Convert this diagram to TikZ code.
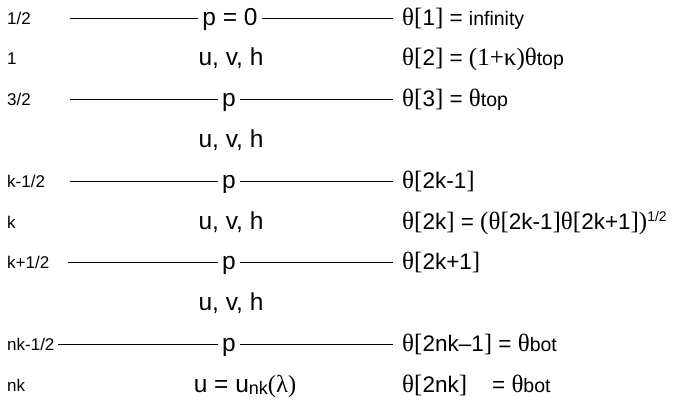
\documentclass[tikz,border=0pt]{standalone}
\usepackage{fontspec}
\setmainfont{Liberation Sans}
\newfontfamily\srf{Liberation Serif}
\newcommand\tht{{\fontsize{25}{25}\selectfont\srf θ}}
\newcommand\lbk{{\fontsize{25}{25}\selectfont\srf[}}
\newcommand\rbk{{\fontsize{25}{25}\selectfont\srf]}}
\newcommand\lpr{{\fontsize{25}{25}\selectfont\srf(}}
\newcommand\rpr{{\fontsize{25}{25}\selectfont\srf)}}
\newcommand\sml[1]{{\fontsize{19.5}{20}\selectfont #1}}
\newcommand\smm[1]{{\fontsize{18}{18}\selectfont #1}}
\begin{document}
\begin{tikzpicture}[x=1pt,y=-1pt,
  lab/.style={font=\fontsize{17}{18}\selectfont, anchor=base west, inner sep=0pt},
  mid/.style={font=\fontsize{24.5}{25}\selectfont, anchor=base, inner xsep=4pt, inner ysep=0pt},
  rt/.style={font=\fontsize{22.5}{25}\selectfont, anchor=base west, inner sep=0pt},
  ln/.style={line width=0.9pt}]
\useasboundingbox (0,0) rectangle (675,405);
% left labels
\node[lab] (L0) at (7,24) {1/2};
\node[lab] (L1) at (7,64.8) {1};
\node[lab] (L2) at (7,105.6) {3/2};
\node[lab] (L4) at (7,187.2) {k-1/2};
\node[lab] (L5) at (7,228) {k};
\node[lab] (L6) at (7,268.8) {k+1/2};
\node[lab] (L8) at (7,350.4) {nk-1/2};
\node[lab] (L9) at (7,391.2) {nk};
% middle
\node[mid] (M0) at (230,25) {p = 0};
\node[mid] (M1) at (231,65.8) {u, v, h};
\node[mid] (M2) at (229,106.6) {p};
\node[mid] (M3) at (231,147.4) {u, v, h};
\node[mid] (M4) at (229,188.2) {p};
\node[mid] (M5) at (231,229) {u, v, h};
\node[mid] (M6) at (229,269.8) {p};
\node[mid] (M7) at (231,310.6) {u, v, h};
\node[mid] (M8) at (229,351.4) {p};
\node[mid] (M9) at (245,392.2) {u = u\raisebox{-2pt}{\smm{nk}}{\srf(λ)}};
% line ends
\coordinate (A0) at (70,18);    \coordinate (B0) at (393,18);
\coordinate (A2) at (70,99.6);  \coordinate (B2) at (393,99.6);
\coordinate (A4) at (70,181.2); \coordinate (B4) at (393,181.2);
\coordinate (A6) at (68,262.8); \coordinate (B6) at (393,262.8);
\coordinate (A8) at (58,344.4); \coordinate (B8) at (393,344.4);
\foreach \i in {0,2,4,6,8}{
  \draw[ln] (A\i) -- (A\i -| M\i.west);
  \draw[ln] (M\i.east |- B\i) -- (B\i);
}
% right column
\node[rt] (R0) at (402,25) {\tht\lbk1\rbk\ = \sml{infinity}};
\node[rt] (R1) at (402,65.8) {\tht\lbk2\rbk\ = \lpr{\fontsize{25}{25}\selectfont\srf 1+κ}\rpr\tht\sml{top}};
\node[rt] (R2) at (402,106.6) {\tht\lbk3\rbk\ = \tht\sml{top}};
\node[rt] (R4) at (402,188.2) {\tht\lbk2k-1\rbk};
\node[rt] (R5) at (402,229) {\tht\lbk2k\rbk\ = \lpr\tht\lbk2k-1\rbk\tht\lbk2k+1\rbk\rpr\raisebox{8pt}{\fontsize{14}{14}\selectfont 1/2}};
\node[rt] (R6) at (402,269.8) {\tht\lbk2k+1\rbk};
\node[rt] (R8) at (402,351.4) {\tht\lbk2nk–1\rbk\ = \tht\sml{bot}};
\node[rt] (R9) at (402,392.2) {\tht\lbk2nk\rbk\ \ \ \ = \tht\sml{bot}};
\end{tikzpicture}
\end{document}
